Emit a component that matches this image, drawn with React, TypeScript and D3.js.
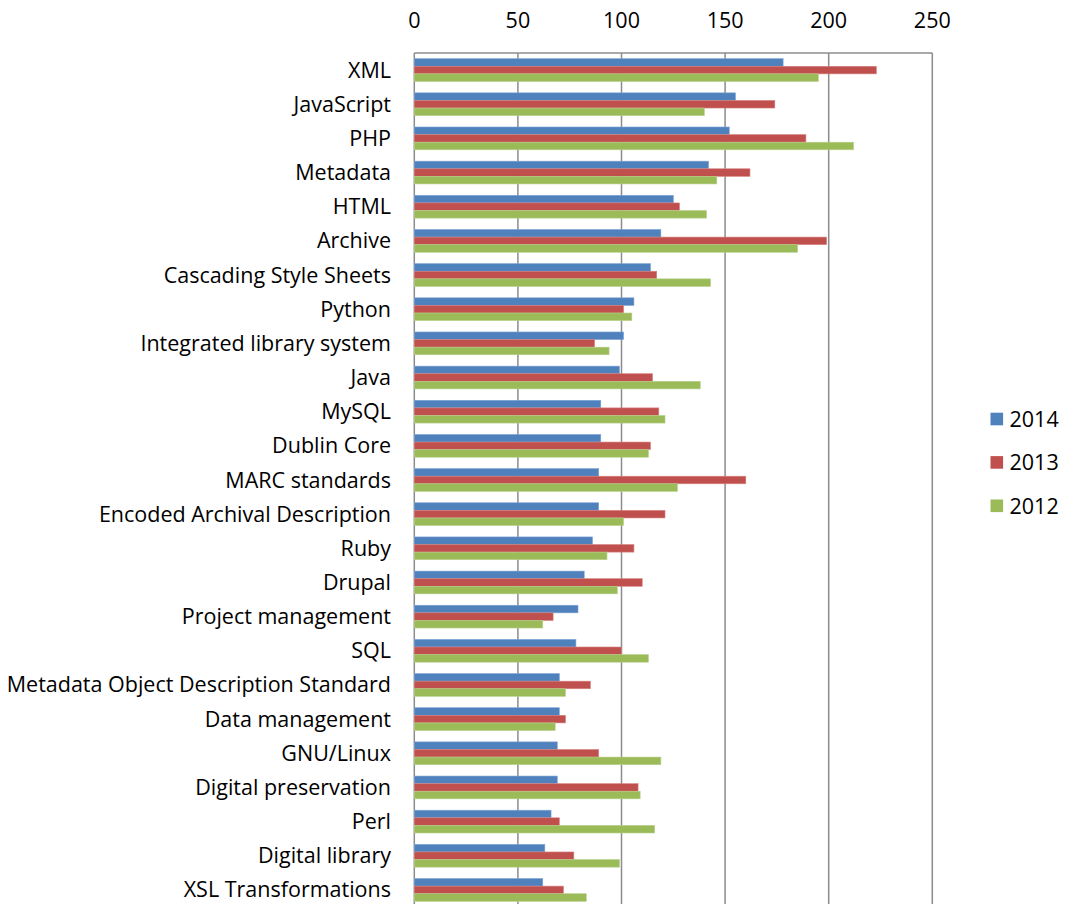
import * as d3 from "d3"

// skill names, top to bottom as in the chart
const skills = [
  "XML",
  "JavaScript",
  "PHP",
  "Metadata",
  "HTML",
  "Archive",
  "Cascading Style Sheets",
  "Python",
  "Integrated library system",
  "Java",
  "MySQL",
  "Dublin Core",
  "MARC standards",
  "Encoded Archival Description",
  "Ruby",
  "Drupal",
  "Project management",
  "SQL",
  "Metadata Object Description Standard",
  "Data management",
  "GNU/Linux",
  "Digital preservation",
  "Perl",
  "Digital library",
  "XSL Transformations",
]

const years = ["2014", "2013", "2012"]

const values2014 = [178, 155, 152, 142, 125, 119, 114, 106, 101, 99, 90, 90, 89, 89, 86, 82, 79, 78, 70, 70, 69, 69, 66, 63, 62]
const values2013 = [223, 174, 189, 162, 128, 199, 117, 101, 87, 115, 118, 114, 160, 121, 106, 110, 67, 100, 85, 73, 89, 108, 70, 77, 72]
const values2012 = [195, 140, 212, 146, 141, 185, 143, 105, 94, 138, 121, 113, 127, 101, 93, 98, 62, 113, 73, 68, 119, 109, 116, 99, 83]

const xTicks = [0, 50, 100, 150, 200, 250]

const colors = ["#4f81bd", "#c0504d", "#9bbb59"]
const edgeColors = ["#7ea3d3", "#d68482", "#b7d08a"]

const W = 1068
const H = 904
const FONT = "'Open Sans', 'Noto Sans', sans-serif"

export default function App() {
  const series = [values2014, values2013, values2012]

  const x = d3.scaleLinear().domain([0, 250]).range([414.3, 932.3])
  const y = d3
    .scaleBand<string>()
    .domain(skills)
    .range([53, 907])
    .paddingInner(1 / 3)
    .paddingOuter(1 / 6)
  const inner = d3.scaleBand<string>().domain(years).range([0, y.bandwidth()])

  return (
    <svg
      width={W}
      height={H}
      style={{ position: "absolute", left: 0, top: 0, background: "#fff", display: "block" }}
      fontFamily={FONT}
    >
      <rect width={W} height={H} fill="#fff" />

      {/* gridlines + frame */}
      <g>
        {xTicks.map((t) => (
          <line key={t} x1={x(t)} x2={x(t)} y1={53} y2={907} stroke="#8c8c8c" strokeWidth={1.5} />
        ))}
        <line x1={x(0)} x2={x(250)} y1={53} y2={53} stroke="#8c8c8c" strokeWidth={1.5} />
      </g>

      {/* tick labels on top */}
      <g fontSize={21.5} fill="#000" textAnchor="middle">
        {xTicks.map((t) => (
          <text key={t} x={x(t)} y={28}>
            {t}
          </text>
        ))}
      </g>

      {/* bars */}
      {series.map((vals, si) => (
        <g key={years[si]}>
          {skills.map((s, i) => (
            <rect
              key={s}
              x={x(0)}
              y={(y(s) ?? 0) + (inner(years[si]) ?? 0)}
              width={x(vals[i]) - x(0)}
              height={inner.bandwidth()}
              fill={colors[si]}
              stroke={edgeColors[si]}
              strokeWidth={0.6}
            />
          ))}
        </g>
      ))}

      {/* category labels */}
      <g fontSize={21.5} fill="#000" textAnchor="end">
        {skills.map((s) => (
          <text key={s} x={391} y={(y(s) ?? 0) + y.bandwidth() / 2} dy="0.35em">
            {s}
          </text>
        ))}
      </g>

      {/* legend */}
      <g fontSize={21.5} fill="#000">
        {years.map((yr, i) => (
          <g key={yr} transform={`translate(990.5, ${412.7 + i * 43.4})`}>
            <rect width={12.6} height={12.6} fill={colors[i]} />
            <text x={19} y={6.3} dy="0.36em">
              {yr}
            </text>
          </g>
        ))}
      </g>
    </svg>
  )
}
